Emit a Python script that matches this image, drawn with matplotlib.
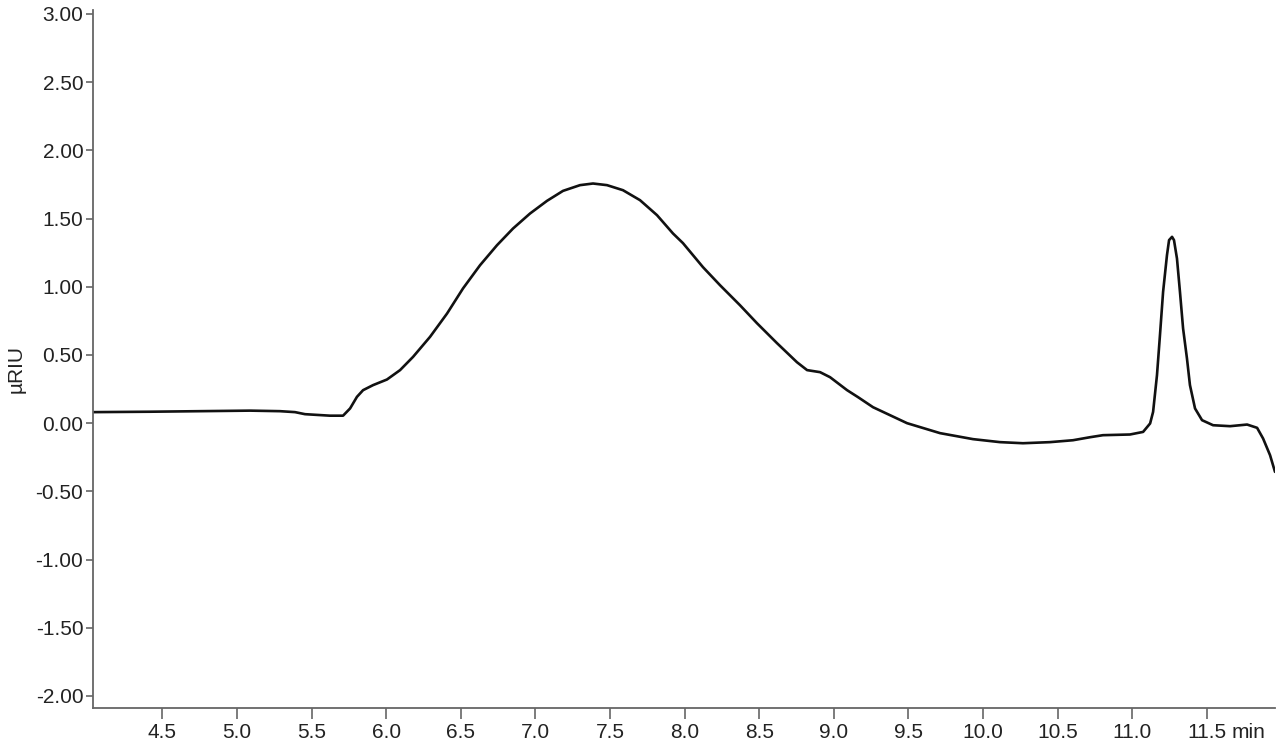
import matplotlib
matplotlib.use("Agg")
import matplotlib.pyplot as plt
import numpy as np

plt.rcParams['font.family'] = ['Liberation Sans', 'DejaVu Sans']
plt.rcParams['axes.unicode_minus'] = False

# retention time (min) and detector signal (uRIU)
t = [4.035, 4.417, 4.752, 5.087, 5.288, 5.389, 5.456, 5.623, 5.711, 5.758,
     5.804, 5.845, 5.912, 6.005, 6.093, 6.180, 6.294, 6.408, 6.515, 6.629,
     6.743, 6.850, 6.964, 7.078, 7.185, 7.299, 7.386, 7.480, 7.587, 7.701,
     7.815, 7.922, 7.989, 8.123, 8.237, 8.371, 8.485, 8.619, 8.753, 8.821,
     8.908, 8.975, 9.089, 9.162, 9.263, 9.491, 9.712, 9.933, 10.114, 10.268,
     10.449, 10.603, 10.717, 10.804, 10.985, 11.073, 11.120, 11.140, 11.166, 11.186,
     11.207, 11.233, 11.247, 11.267, 11.280, 11.300, 11.320, 11.341, 11.367, 11.387,
     11.421, 11.468, 11.542, 11.656, 11.770, 11.837, 11.877, 11.924, 11.957]
signal = [0.081, 0.084, 0.088, 0.092, 0.088, 0.081, 0.066, 0.055, 0.055, 0.108,
          0.193, 0.242, 0.279, 0.320, 0.389, 0.486, 0.633, 0.804, 0.988, 1.158,
          1.305, 1.427, 1.537, 1.630, 1.703, 1.745, 1.757, 1.745, 1.708, 1.635,
          1.525, 1.391, 1.320, 1.144, 1.012, 0.865, 0.733, 0.587, 0.447, 0.389,
          0.374, 0.337, 0.242, 0.191, 0.117, 0.000, -0.073, -0.117, -0.139, -0.147,
          -0.139, -0.125, -0.103, -0.088, -0.083, -0.064, -0.002, 0.083, 0.352, 0.645,
          0.963, 1.232, 1.342, 1.366, 1.342, 1.207, 0.963, 0.694, 0.474, 0.279,
          0.108, 0.022, -0.015, -0.022, -0.010, -0.034, -0.112, -0.235, -0.357]

xticks = np.arange(4.5, 11.51, 0.5)
yticks = np.arange(-2.0, 3.01, 0.5)

fig = plt.figure(figsize=(12.8, 7.48), dpi=100)
ax = fig.add_axes([93/1280, 1 - 708/748, 1182/1280, 698/748])

ax.plot(t, signal, color='#111111', lw=1.9, solid_joinstyle='round',
        solid_capstyle='round')

ax.set_xlim(4.035, 11.957)
ax.set_ylim(-2.088, 3.029)
ax.set_xticks(xticks)
ax.set_xticklabels(['%.1f' % v for v in xticks])
ax.set_yticks(yticks)
ax.set_yticklabels(['%.2f' % v for v in yticks])

for s in ['top', 'right']:
    ax.spines[s].set_visible(False)
for s in ['left', 'bottom']:
    ax.spines[s].set_color('#666666')
    ax.spines[s].set_linewidth(1.3)

ax.tick_params(axis='y', direction='out', length=5, width=1.2, color='#666666',
               pad=2, labelsize=15, labelcolor='#222222')
ax.tick_params(axis='x', direction='out', length=8, width=1.2, color='#666666',
               pad=3, labelsize=15, labelcolor='#222222')

ax.set_ylabel('µRIU', fontsize=15, color='#222222')
ax.yaxis.set_label_coords(-0.057, 0.485)

ax.text(11.665, -15/698, 'min', transform=ax.get_xaxis_transform(),
        ha='left', va='top', fontsize=15, color='#222222')

fig.savefig('out.png', dpi=100)
